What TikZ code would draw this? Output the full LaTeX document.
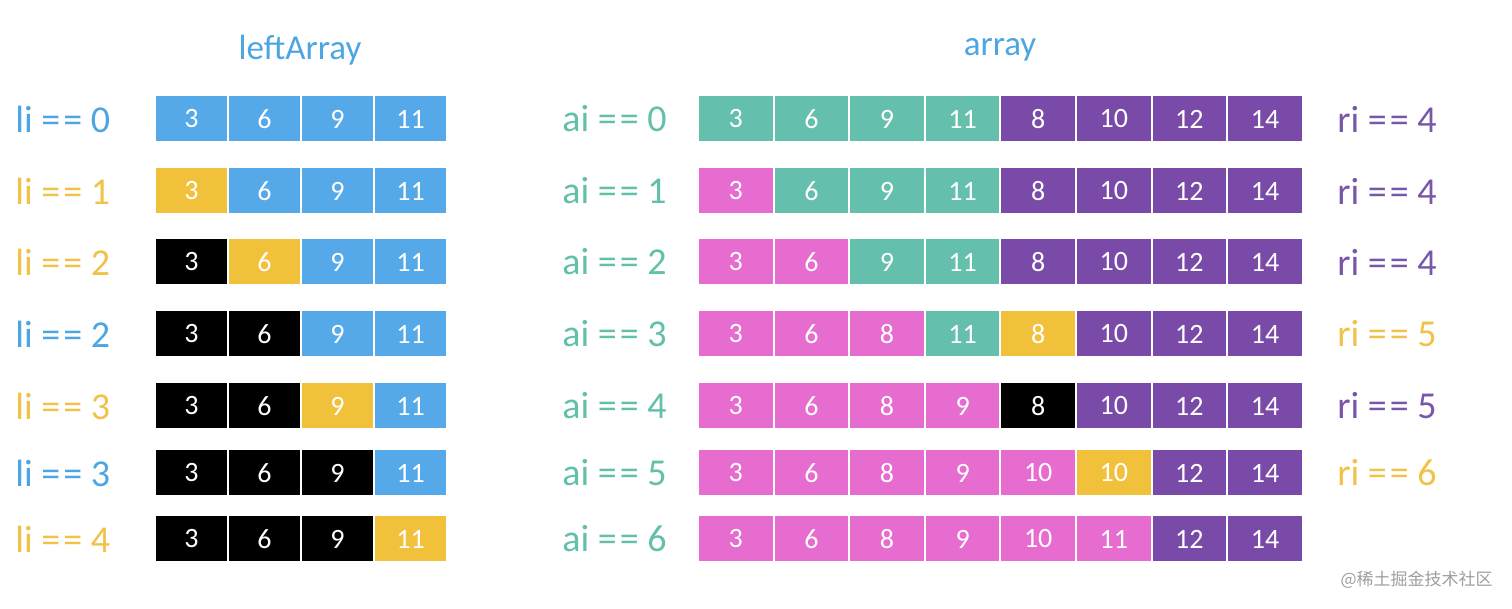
\documentclass[tikz,border=0pt]{standalone}
\usepackage{fontspec}
\setmainfont{Carlito}
\newfontfamily\cjk{Noto Sans CJK SC}
\definecolor{cB}{HTML}{55A9E9}
\definecolor{cY}{HTML}{F2C13C}
\definecolor{cK}{HTML}{000000}
\definecolor{cT}{HTML}{65BFAD}
\definecolor{cP}{HTML}{7A4AA8}
\definecolor{cM}{HTML}{E66CCF}
\definecolor{lB}{HTML}{4DA6E2}
\definecolor{lY}{HTML}{F0C248}
\definecolor{lT}{HTML}{62BFA9}
\definecolor{lP}{HTML}{7856A8}
\newcommand{\eqq}{={\kern1.5pt}=}
\tikzset{
  cellL/.style={draw=white, line width=1pt, minimum width=36.5pt, minimum height=23.5pt, inner sep=0pt},
  cellR/.style={cellL, minimum width=37.8pt},
  num/.style={text=white, font=\fontsize{14}{15}\selectfont},
  lab/.style={anchor=west, inner sep=0pt, font=\fontsize{19}{20}\selectfont},
  ttl/.style={inner sep=0pt, font=\fontsize{17.5}{19}\selectfont, text=lB},
}
\begin{document}
\begin{tikzpicture}[x=0.5pt,y=-0.5pt]
\useasboundingbox (0,0) rectangle (1512,609);
\node[ttl] (t1) at (300,50) {leftArray};
\node[ttl] (t2) at (1000,50) {array};
% left array
\foreach \r/\y/\lv/\lc/\cols in {
  1/119/0/lB/{cB,cB,cB,cB},
  2/191/1/lY/{cY,cB,cB,cB},
  3/262/2/lY/{cK,cY,cB,cB},
  4/334/2/lB/{cK,cK,cB,cB},
  5/406/3/lY/{cK,cK,cY,cB},
  6/473/3/lB/{cK,cK,cK,cB},
  7/539/4/lY/{cK,cK,cK,cY}}{
  \node[lab, text=\lc] (ll\r) at (15,\y) {li \eqq{} \lv};
  \foreach \c [count=\i] in \cols {
    \node[cellL, fill=\c] (L\r-\i) at ({155+36.5+73*(\i-1)},\y) {};
  }
  \foreach \v [count=\i] in {3,6,9,11} {
    \path (L\r-\i.center) node[num] {\v};
  }
}
% right array
\foreach \r/\y/\lv/\vals/\cols in {
  1/119/0/{3,6,9,11,8,10,12,14}/{cT,cT,cT,cT,cP,cP,cP,cP},
  2/191/1/{3,6,9,11,8,10,12,14}/{cM,cT,cT,cT,cP,cP,cP,cP},
  3/262/2/{3,6,9,11,8,10,12,14}/{cM,cM,cT,cT,cP,cP,cP,cP},
  4/334/3/{3,6,8,11,8,10,12,14}/{cM,cM,cM,cT,cY,cP,cP,cP},
  5/406/4/{3,6,8,9,8,10,12,14}/{cM,cM,cM,cM,cK,cP,cP,cP},
  6/473/5/{3,6,8,9,10,10,12,14}/{cM,cM,cM,cM,cM,cY,cP,cP},
  7/539/6/{3,6,8,9,10,11,12,14}/{cM,cM,cM,cM,cM,cM,cP,cP}}{
  \node[lab, text=lT] (al\r) at (562,\y) {ai \eqq{} \lv};
  \foreach \c [count=\i] in \cols {
    \node[cellR, fill=\c] (R\r-\i) at ({698+37.8+75.6*(\i-1)},\y) {};
  }
  \foreach \v [count=\i] in \vals {
    \path (R\r-\i.center) node[num] {\v};
  }
}
\foreach \r/\y/\lv/\lc in {1/119/4/lP, 2/191/4/lP, 3/262/4/lP, 4/334/5/lY, 5/406/5/lP, 6/473/6/lY}{
  \node[lab, text=\lc] (rl\r) at (1337,\y) {ri \eqq{} \lv};
}
\node[anchor=east, inner sep=0pt, text=black!38, font=\cjk\fontsize{8.5}{9}\selectfont] (wm) at (1493,580) {@稀土掘金技术社区};
\end{tikzpicture}
\end{document}
